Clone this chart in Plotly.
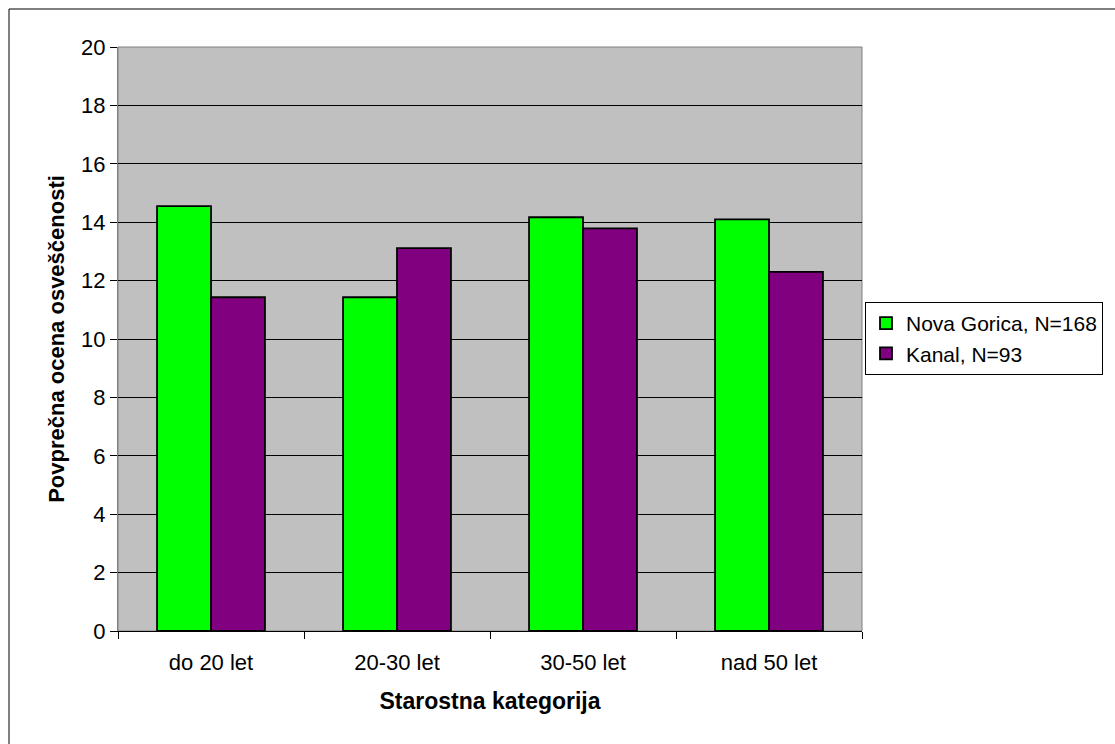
import plotly.graph_objects as go

categories = ["do 20 let", "20-30 let", "30-50 let", "nad 50 let"]
nova_gorica = [14.55, 11.43, 14.17, 14.10]
kanal = [11.43, 13.11, 13.79, 12.30]
series_names = ["Nova Gorica, N=168", "Kanal, N=93"]
y_ticks = [0, 2, 4, 6, 8, 10, 12, 14, 16, 18, 20]

W, H = 1115, 744
L, R, T, B = 118, 862, 47, 631
pw, ph = R - L, B - T

fig = go.Figure()
fig.add_bar(x=categories, y=nova_gorica, name=series_names[0],
            marker=dict(color="#00FF00", line=dict(color="black", width=1.8)))
fig.add_bar(x=categories, y=kanal, name=series_names[1],
            marker=dict(color="#800080", line=dict(color="black", width=1.8)))

font = "Liberation Sans, Arial, sans-serif"
fig.update_layout(
    width=W, height=H,
    margin=dict(l=L, r=W - R, t=T, b=H - B, pad=0, autoexpand=False),
    paper_bgcolor="white", plot_bgcolor="#C0C0C0",
    barmode="group", bargap=0.42, bargroupgap=0,
    font=dict(family=font, size=22, color="black"),
    legend=dict(x=(865 - L) / pw, y=(B - 302) / ph, xanchor="left", yanchor="top",
                bordercolor="black", borderwidth=1, bgcolor="white",
                font=dict(size=21), tracegroupgap=0, itemwidth=30),
    xaxis=dict(showgrid=False, ticks="outside", tickson="boundaries", ticklen=7,
               tickcolor="black", showline=True, linecolor="black", linewidth=1,
               ticklabelstandoff=12, automargin=False,
               title=dict(text="<b>Starostna kategorija</b>", font=dict(size=23), standoff=18),
               tickfont=dict(size=22)),
    yaxis=dict(range=[0, 20], tickvals=y_ticks, ticks="outside", ticklen=7,
               tickcolor="black", showline=True, linecolor="#808080", linewidth=1,
               gridcolor="#000000", gridwidth=1, zeroline=False, automargin=False,
               title=dict(text="<b>Povprečna ocena osveščenosti</b>", font=dict(size=22), standoff=10),
               tickfont=dict(size=22)),
)

# plot area border (gray)
fig.add_shape(type="rect", xref="paper", yref="paper", x0=0, x1=1, y0=0, y1=1,
              line=dict(color="#808080", width=1), layer="below")
# outer chart frame (extends past the right and bottom edges)
fig.add_shape(type="rect", xref="paper", yref="paper",
              x0=(9 - L) / pw, x1=(1130 - L) / pw,
              y0=(B - 760) / ph, y1=(B - 9) / ph,
              line=dict(color="black", width=1))

fig.write_html("out.html", config={"displayModeBar": False},
               post_script="document.body.style.margin='0';document.body.style.overflow='hidden';")
